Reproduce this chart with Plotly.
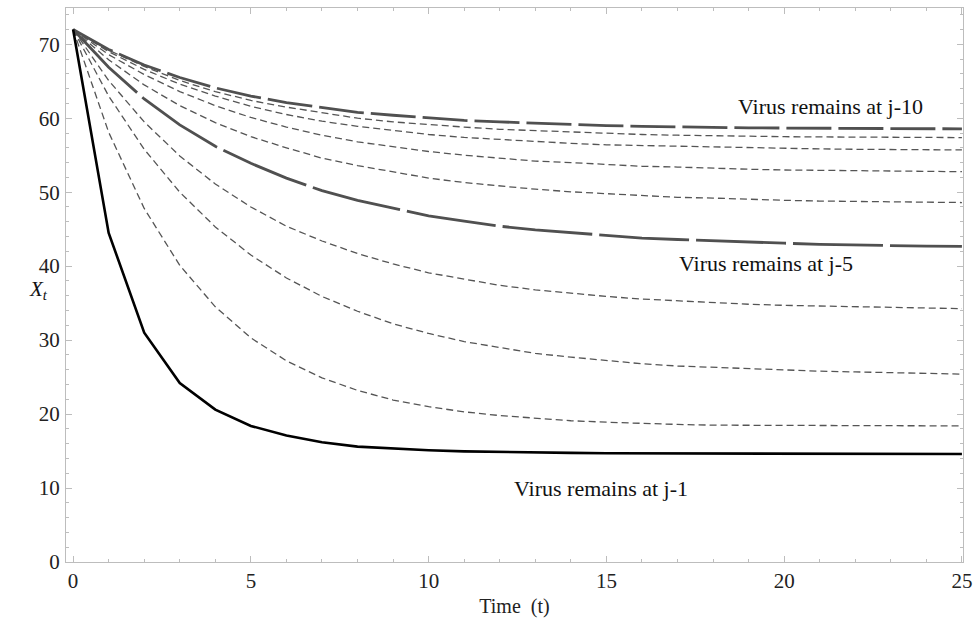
import plotly.graph_objects as go

t = list(range(26))

j1 = [72.0, 44.5, 31.0, 24.2, 20.6, 18.4, 17.1, 16.2, 15.6, 15.3, 15.1, 14.95, 14.85, 14.8, 14.75,
      14.7, 14.7, 14.68, 14.66, 14.65, 14.64, 14.63, 14.62, 14.61, 14.6, 14.6]
j2 = [72.0, 58.1, 47.8, 40.1, 34.5, 30.3, 27.2, 24.9, 23.2, 21.9, 21.0, 20.3, 19.8, 19.4, 19.1,
      18.9, 18.7, 18.6, 18.5, 18.5, 18.45, 18.42, 18.4, 18.4, 18.4, 18.4]
j3 = [72.0, 63.0, 55.8, 50.0, 45.3, 41.5, 38.4, 35.9, 33.9, 32.2, 30.9, 29.8, 29.0, 28.2, 27.7,
      27.2, 26.8, 26.5, 26.3, 26.1, 25.9, 25.8, 25.7, 25.6, 25.5, 25.4]
j4 = [72.0, 65.1, 59.5, 54.9, 51.1, 48.0, 45.4, 43.4, 41.7, 40.3, 39.1, 38.2, 37.4, 36.8, 36.3,
      35.9, 35.55, 35.3, 35.0, 34.85, 34.7, 34.6, 34.5, 34.4, 34.3, 34.25]
j5 = [72.0, 66.9, 62.6, 59.1, 56.2, 53.9, 51.9, 50.2, 48.9, 47.8, 46.8, 46.1, 45.4, 44.9, 44.5,
      44.1, 43.8, 43.6, 43.4, 43.2, 43.1, 42.95, 42.85, 42.8, 42.7, 42.66]
j6 = [72.0, 67.9, 64.5, 61.7, 59.4, 57.5, 56.0, 54.6, 53.6, 52.7, 51.9, 51.3, 50.8, 50.4, 50.05,
      49.8, 49.5, 49.3, 49.2, 49.0, 48.9, 48.8, 48.75, 48.7, 48.65, 48.6]
j7 = [72.0, 68.6, 65.9, 63.6, 61.7, 60.1, 58.8, 57.7, 56.8, 56.1, 55.5, 55.0, 54.6, 54.2, 54.0,
      53.7, 53.5, 53.4, 53.2, 53.1, 53.0, 52.96, 52.9, 52.85, 52.8, 52.77]
j8 = [72.0, 69.0, 66.6, 64.6, 63.0, 61.6, 60.5, 59.6, 58.9, 58.3, 57.8, 57.4, 57.1, 56.8, 56.6,
      56.4, 56.3, 56.15, 56.05, 56.0, 55.9, 55.85, 55.8, 55.77, 55.73, 55.71]
j9 = [72.0, 69.2, 67.0, 65.1, 63.6, 62.4, 61.5, 60.7, 60.0, 59.5, 59.1, 58.8, 58.5, 58.3, 58.1,
      57.9, 57.8, 57.7, 57.6, 57.55, 57.5, 57.47, 57.45, 57.42, 57.4, 57.38]
j10 = [72.0, 69.3, 67.2, 65.5, 64.1, 63.0, 62.1, 61.4, 60.8, 60.4, 60.0, 59.7, 59.5, 59.3, 59.1,
       59.0, 58.9, 58.8, 58.76, 58.7, 58.67, 58.63, 58.6, 58.59, 58.57, 58.56]

x_ticks = [0, 5, 10, 15, 20, 25]
y_ticks = [0, 10, 20, 30, 40, 50, 60, 70]

labels = ["Virus remains at j-10", "Virus remains at j-5", "Virus remains at j-1"]
label_x = [21.3, 19.5, 14.85]
label_y = [61.6, 40.4, 9.9]

FONT = "Liberation Serif"
DASHED = dict(color="#555555", width=1.3, dash="7px,4px")

fig = go.Figure()
for s in [j2, j3, j4, j6, j7, j8, j9]:
    fig.add_trace(go.Scatter(x=t, y=s, mode="lines", line=DASHED, hoverinfo="skip"))
fig.add_trace(go.Scatter(x=t, y=j5, mode="lines",
                         line=dict(color="#505050", width=2.8, dash="90px,7px")))
fig.add_trace(go.Scatter(x=t, y=j10, mode="lines",
                         line=dict(color="#505050", width=2.8, dash="45px,7px")))
fig.add_trace(go.Scatter(x=t, y=j1, mode="lines",
                         line=dict(color="#000000", width=2.6)))

for txt, lx, ly in zip(labels, label_x, label_y):
    fig.add_annotation(x=lx, y=ly, text=txt, showarrow=False,
                       font=dict(family=FONT, size=22, color="#111111"))

fig.add_annotation(xref="paper", yref="paper", x=-0.044, y=0.491,
                   text="<i>X</i><sub><i>t</i></sub>", showarrow=False,
                   font=dict(family=FONT, size=21, color="#111111"))

axis_common = dict(showline=True, linecolor="#bdbdbd", linewidth=1.2, mirror="ticks",
                   ticks="inside", tickcolor="#bdbdbd", ticklen=6, tickwidth=1,
                   showgrid=False, zeroline=False, automargin=False,
                   tickfont=dict(family=FONT, size=21, color="#222222"))

fig.update_xaxes(range=[-0.2, 25.03], tickvals=x_ticks,
                 minor=dict(dtick=1, ticks="inside", ticklen=3, tickcolor="#bdbdbd", showgrid=False),
                 title=dict(text="Time  (t)", font=dict(family=FONT, size=20, color="#222222"),
                            standoff=6),
                 **axis_common)
fig.update_yaxes(range=[0, 74.9], tickvals=y_ticks,
                 minor=dict(dtick=2, ticks="inside", ticklen=3, tickcolor="#bdbdbd", showgrid=False),
                 ticklabelstandoff=1,
                 **axis_common)

fig.update_layout(width=976, height=628, showlegend=False,
                  plot_bgcolor="white", paper_bgcolor="white",
                  margin=dict(l=66, r=13, t=8, b=66),
                  font=dict(family=FONT))

# remove the default page margin and scrollbars so the figure fills the window exactly
fig.write_html("out.html",
               config={"displayModeBar": False},
               post_script="document.body.style.margin='0';"
                           "document.body.style.overflow='hidden';"
                           "document.documentElement.style.overflow='hidden';")
